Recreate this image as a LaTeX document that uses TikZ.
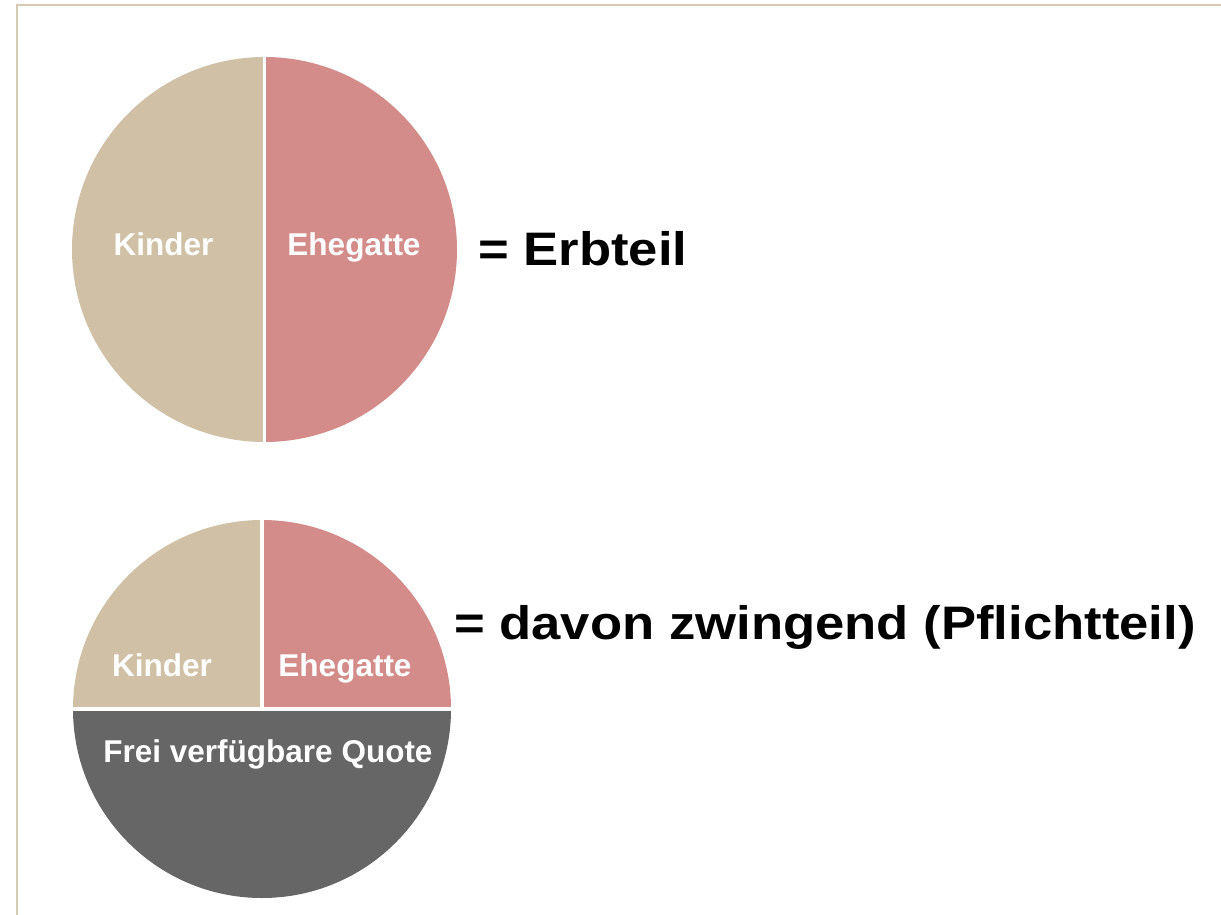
\documentclass[tikz,border=0pt]{standalone}
\usepackage{fontspec}
\setmainfont{Liberation Sans}
\definecolor{kinder}{HTML}{CFC0A6}
\definecolor{ehe}{HTML}{D38C8A}
\definecolor{frei}{HTML}{666666}
\definecolor{rahmen}{HTML}{D8CBB5}
\tikzset{
	teil/.style={font=\fontsize{31.5}{36}\selectfont\bfseries, text=white, anchor=base, inner sep=0},
	gleich/.style={font=\fontsize{47}{56}\selectfont\bfseries, xscale=1.12, anchor=base west, inner sep=0},
	trenn/.style={white, line width=3.5pt}
}
\begin{document}
\begin{tikzpicture}[x=1pt,y=-1pt]
		\useasboundingbox (0,0) rectangle (1221,915);
		\draw[rahmen, line width=2pt] (16.5,915) -- (16.5,5) -- (1221,5);
		
		% Erbteil
		\coordinate (erb) at (264.5,249.5);
		\fill[kinder] (erb) -- ++(0,-192.5) arc (270:90:192.5) -- cycle;
		\fill[ehe] (erb) -- ++(0,-192.5) arc (-90:90:192.5) -- cycle;
		\draw[trenn] ([yshift=192.5]erb) -- ([yshift=-192.5]erb);
		\node[teil] (k1) at (163.5,255) {Kinder};
		\node[teil] (e1) at (354,255) {Ehegatte};
		\node[gleich] (erbteil) at (478,265) {= Erbteil};
		
		% Pflichtteil
		\coordinate (pfl) at (262,709);
		\fill[kinder] (pfl) -- ++(0,-189) arc (270:180:189) -- cycle;
		\fill[ehe] (pfl) -- ++(0,-189) arc (270:360:189) -- cycle;
		\fill[frei] (pfl) -- ++(-189,0) arc (180:0:189) -- cycle;
		\draw[trenn] ([yshift=189]pfl) -- (pfl);
		\draw[trenn] ([xshift=-189]pfl) -- ([xshift=189]pfl);
		\node[teil] (k2) at (162,676) {Kinder};
		\node[teil] (e2) at (345,676) {Ehegatte};
		\node[teil] (quote) at (268,762) {Frei verfügbare Quote};
		\node[gleich] (pflicht) at (454,639) {= davon zwingend (Pflichtteil)};
	\end{tikzpicture}
\end{document}
